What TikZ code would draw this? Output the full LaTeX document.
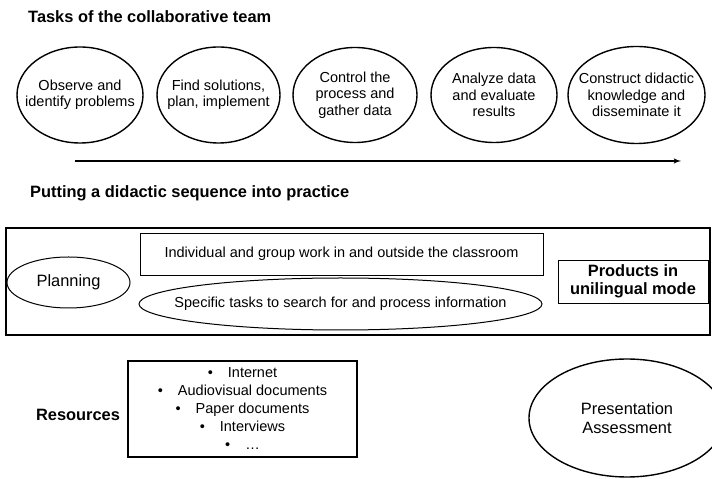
\documentclass[tikz,border=0pt]{standalone}
\usepackage{fontspec}
\setmainfont{Liberation Sans}
\usepackage{tikz}
\usetikzlibrary{arrows,positioning,shapes.geometric}
\tikzstyle{head}=[font=\bfseries\fontsize{16.4}{19}\selectfont, anchor=west, inner sep=0pt]
\tikzstyle{task}=[draw, ellipse, line width=1.4pt, inner xsep=-25pt, inner ysep=0pt, align=center, font=\fontsize{14.5}{16.5}\selectfont]
\tikzstyle{frame}=[draw, line width=1.6pt, inner sep=0pt]
\tikzstyle{work}=[draw, line width=0.8pt, align=center, font=\fontsize{14.5}{16.5}\selectfont]
\tikzstyle{oval}=[draw, ellipse, line width=1pt, inner xsep=-25pt, inner ysep=0pt, align=center]
\tikzstyle{prod}=[draw, line width=0.8pt, align=center, font=\bfseries\fontsize{16.4}{17.5}\selectfont]
\tikzstyle{res}=[draw, line width=1.5pt, align=center, font=\fontsize{14.5}{18}\selectfont]

\begin{document}
\begin{tikzpicture}[x=1pt,y=1pt,>=latex']
    \useasboundingbox (0,0) rectangle (712,479);
    \clip (0,0) rectangle (712,479);
    % tasks of the team
    \node [head] (t1) at (28,462) {Tasks of the collaborative team};
    \node [task, minimum width=126pt, minimum height=96pt] (c1) at (80,384) {Observe and\\identify problems};
    \node [task, minimum width=123pt, minimum height=96pt] (c2) [right of=c1, node distance=138.5pt] {Find solutions,\\plan, implement};
    \node [task, minimum width=124pt, minimum height=95pt] (c3) [right of=c2, node distance=136.5pt] {Control the\\process and\\gather data};
    \node [task, minimum width=126pt, minimum height=95pt] (c4) [right of=c3, node distance=139pt] {Analyze data\\and evaluate\\results};
    \node [task, minimum width=137pt, minimum height=97pt] (c5) [right of=c4, node distance=142.5pt] {Construct didactic\\knowledge and\\disseminate it};
    \coordinate (start) at (75,318);
    \coordinate (end) at (681,318);
    \draw [->, line width=1.5pt] (start) -- (end);
    % didactic sequence
    \node [head] (t2) at (30,286) {Putting a didactic sequence into practice};
    \node [frame, minimum width=704pt, minimum height=107pt] (seq) at (358,197.5) {};
    \node [oval, minimum width=123pt, minimum height=51pt, font=\fontsize{16.4}{19}\selectfont] (plan) at (68.5,196.5) {Planning};
    \node [work, minimum width=403pt, minimum height=42pt] (work) at (341.5,225) {Individual and group work in and outside the classroom};
    \node [oval, minimum width=403pt, minimum height=52pt, font=\fontsize{14.5}{16.5}\selectfont] (search) at (340.5,175) {Specific tasks to search for and process information};
    \node [prod, minimum width=150pt, minimum height=43pt] (prod) at (633,197.5) {Products in\\unilingual mode};
    % resources
    \node [font=\bfseries\fontsize{16.4}{19}\selectfont] (reslabel) at (78,64) {Resources};
    \node [res, minimum width=229pt, minimum height=96pt] (res) at (242.5,70) {\textbullet\hspace{15pt}Internet\\\textbullet\hspace{15pt}Audiovisual documents\\\textbullet\hspace{15pt}Paper documents\\\textbullet\hspace{15pt}Interviews\\\textbullet\hspace{15pt}\ldots};
    \node [oval, line width=1.4pt, minimum width=196pt, minimum height=118pt, font=\fontsize{16.4}{19}\selectfont] (pres) at (627,61) {Presentation\\Assessment};
\end{tikzpicture}
\end{document}
